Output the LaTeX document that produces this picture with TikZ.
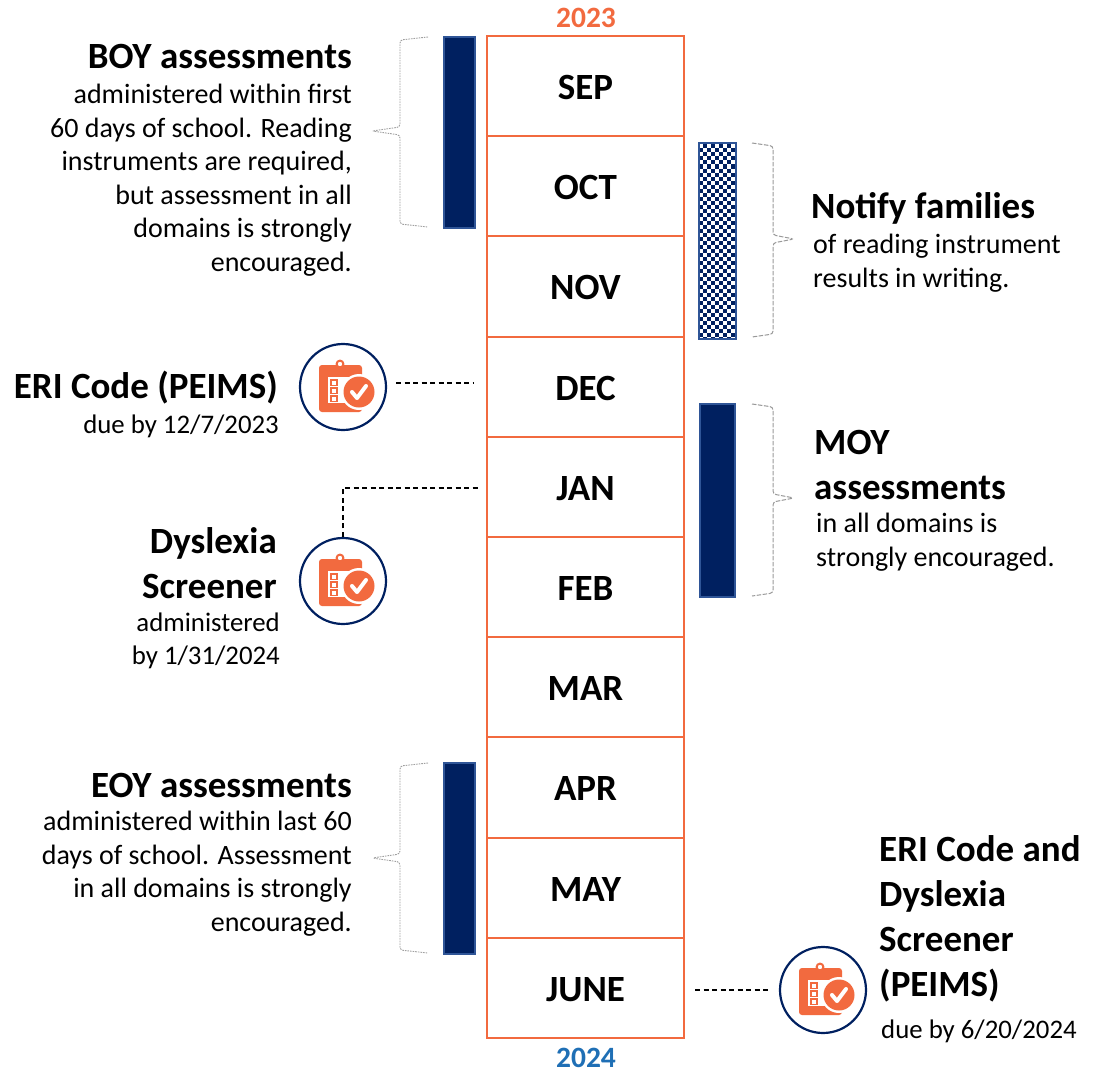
\documentclass[tikz,border=0pt]{standalone}
\usepackage{fontspec}
\setmainfont{Carlito}
\definecolor{orangeR}{HTML}{F26A3F}
\definecolor{navyB}{HTML}{002060}
\definecolor{edgeB}{HTML}{2F5597}
\definecolor{yearB}{HTML}{1F6FB5}
\tikzset{
  month/.style={draw=orangeR,line width=2pt,fill=white,minimum width=197pt,minimum height=100.2pt,inner sep=0pt,font=\bfseries\fontsize{37}{37}\selectfont,text=black},
  bar/.style={draw=edgeB,line width=2.2pt,fill=navyB,minimum width=31pt,inner sep=0pt,anchor=north west},
  checkbar/.style={draw=edgeB,line width=2.2pt,minimum width=36pt,inner sep=0pt,anchor=north west},
  brace/.style={draw=gray!75,line width=0.9pt,dash pattern=on 1.6pt off 1pt,rounded corners=3pt},
  bracedash/.style={draw=gray!80,line width=1pt,dash pattern=on 4.5pt off 1.5pt,rounded corners=3pt},
  lead/.style={draw=black,line width=1.1pt,dash pattern=on 5pt off 3.5pt},
  ring/.style={draw=navyB,line width=2.2pt,circle,minimum size=86pt,inner sep=0pt,fill=white},
  head/.style={font=\bfseries\fontsize{37}{45}\selectfont,text=black,inner sep=0pt},
  body/.style={font=\fontsize{28}{33.5}\selectfont,text=black,inner sep=0pt},
  small/.style={font=\fontsize{26.8}{33}\selectfont,text=black,inner sep=0pt},
  year/.style={font=\bfseries\fontsize{29.5}{29.5}\selectfont,inner sep=0pt},
  pics/clip icon/.style={code={
    \fill[orangeR,rounded corners=3pt] (-24,-22) rectangle (19,25);
    \fill[white] (-15,-10) rectangle (14,16);
    \draw[orangeR,line width=2pt,fill=white] (-3,-23) circle (3.4);
    \foreach \yy in {-7,1,9}{\draw[orangeR,line width=1.6pt] (-12,\yy) rectangle (-6,\yy+5.5);}
    \fill[white] (16,5) circle (18);
    \fill[orangeR] (16,5) circle (15.5);
    \draw[white,line width=4pt,line cap=round,line join=round] (9,5) -- (14,11) -- (23,-1);
  }}
}
\begin{document}
\begin{tikzpicture}[x=1pt,y=-1pt]
\useasboundingbox (0,0) rectangle (1095,1070);
\node[year,text=orangeR] (y23) at (586,18) {2023};
\node[year,text=yearB] (y24) at (586,1058) {2024};
% months
\foreach \n/\t [count=\i from 0] in {sep/SEP,oct/OCT,nov/NOV,dec/DEC,jan/JAN,feb/FEB,mar/MAR,apr/APR,may/MAY,jun/JUNE}{
  \node[month] (\n) at (585.5,{36+100.2*(\i+.5)}) {\raisebox{-1.3pt}[\height][\depth]{\t}};
}
% bars
\node[bar,minimum height=191pt] (boyb) at (443,36) {};
\node[bar,minimum height=191pt] (eoyb) at (443,762) {};
\node[bar,minimum width=35pt,minimum height=193pt] (moyb) at (699,403) {};
\node[checkbar,minimum width=35pt,minimum height=194pt] (notb) at (699,143) {};
\begin{scope}
  \clip (notb.north west) rectangle (notb.south east);
  \fill[white] (notb.north west) rectangle (notb.south east);
  \foreach \r in {-1,...,49}{
    \foreach \c in {0,...,9}{
      \pgfmathtruncatemacro{\parity}{mod(\r+\c+2,2)}
      \ifnum\parity=1
        \fill[navyB] ({699+\c*4},{144.5+\r*4}) rectangle ++(4,4);
      \fi
    }
  }
\end{scope}
\draw[edgeB,line width=2.2pt] (notb.north west) rectangle (notb.south east);
% braces
\coordinate (bb1) at (428,37); \coordinate (bb2) at (372,131); \coordinate (bb3) at (428,227);
\draw[brace] (bb1) -- (400,40) -- (400,127) -- (bb2) -- (400,135) -- (400,224) -- (bb3);
\coordinate (eb1) at (428,763); \coordinate (eb2) at (372,858); \coordinate (eb3) at (428,953);
\draw[brace] (eb1) -- (400,766) -- (400,854) -- (eb2) -- (400,862) -- (400,950) -- (eb3);
\coordinate (nb1) at (752,143); \coordinate (nb2) at (794,239); \coordinate (nb3) at (752,337);
\draw[bracedash] (nb1) -- (773,146) -- (773,235) -- (nb2) -- (773,243) -- (773,334) -- (nb3);
\coordinate (mb1) at (752,404); \coordinate (mb2) at (794,498); \coordinate (mb3) at (752,596);
\draw[bracedash] (mb1) -- (773,407) -- (773,494) -- (mb2) -- (773,502) -- (773,593) -- (mb3);
% icons
\node[ring] (ic1) at (343,387) {};
\path (ic1.center) pic {clip icon};
\node[ring] (ic2) at (343,581) {};
\path (ic2.center) pic {clip icon};
\node[ring] (ic3) at (823,990) {};
\path (ic3.center) pic {clip icon};
% leaders
\coordinate (l1a) at (396,383); \coordinate (l1) at (473,383);
\draw[lead] (l1a) -- (l1);
\coordinate (l2) at (480,488);
\draw[lead] (ic2.north) -- (ic2.north |- l2) -- (l2);
\coordinate (l3a) at (695,990); \coordinate (l3b) at (769,990);
\draw[lead] (l3a) -- (l3b);
% left texts (base anchors sit on the last line of a block)
\node[head,anchor=base east] (t1) at (352,69) {BOY assessments};
\node[body,anchor=base east,align=right] (t1b) at (352,271) {administered within first\\60 days of school. Reading\\instruments are required,\\but assessment in all\\domains is strongly\\encouraged.};
\node[head,anchor=base east] (t2) at (278,398) {ERI Code (PEIMS)};
\node[small,anchor=base east] (t2b) at (279,433) {due by 12/7/2023};
\node[head,anchor=base east,align=right] (t3) at (277,598) {Dyslexia\\Screener};
\node[small,anchor=base east,align=right] (t3b) at (280,664) {administered\\by 1/31/2024};
\node[head,anchor=base east] (t4) at (352,797) {EOY assessments};
\node[body,anchor=base east,align=right] (t4b) at (352,931) {administered within last 60\\days of school. Assessment\\in all domains is strongly\\encouraged.};
% right texts
\node[head,anchor=base west] (t5) at (811,218) {Notify families};
\node[body,anchor=base west,align=left] (t5b) at (813,287) {of reading instrument\\results in writing.};
\node[head,anchor=base west,align=left] (t6) at (814,499) {MOY\\assessments};
\node[body,anchor=base west,align=left] (t6b) at (816,566) {in all domains is\\strongly encouraged.};
\node[head,anchor=base west,align=left] (t7) at (879,996) {ERI Code and\\Dyslexia\\Screener\\(PEIMS)};
\node[small,anchor=base west] (t7b) at (881,1038) {due by 6/20/2024};
\end{tikzpicture}
\end{document}
